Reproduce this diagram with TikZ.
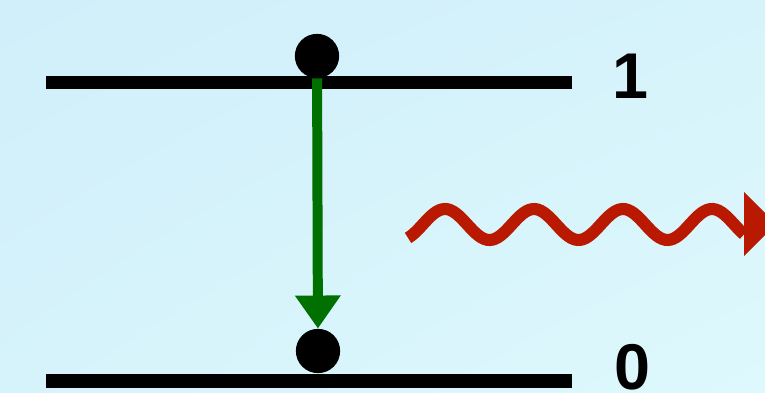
\documentclass[tikz,border=0pt]{standalone}
\usepackage{fontspec}
\setmainfont{Liberation Sans}
\usetikzlibrary{arrows.meta,shadings}
\definecolor{bgdark}{RGB}{208,239,250}
\definecolor{bgmid}{RGB}{214,243,251}
\definecolor{bglight}{RGB}{222,249,253}
\definecolor{decay}{RGB}{0,112,0}
\definecolor{photon}{RGB}{185,25,0}
\begin{document}
\begin{tikzpicture}[x=0.025cm, y=-0.025cm, >={Triangle[length=23.5pt,width=31pt]},
  level/.style={line width=9.3pt},
  dot/.style={circle, fill=black, inner sep=0pt, minimum size=31.5pt},
  num/.style={font=\bfseries\fontsize{46}{46}\selectfont, inner sep=0pt}]
\useasboundingbox (0,0) rectangle (765,393);
\shade[upper left=bgdark, upper right=bgmid, lower left=bgmid, lower right=bglight]
  (0,0) rectangle (765,393);

% energy levels
\coordinate (upL) at (46,82.5);
\coordinate (upR) at (572,82.5);
\coordinate (loL) at (46,381);
\coordinate (loR) at (572,381);
\draw[level] (upL) -- (upR);
\draw[level] (loL) -- (loR);
\node[num] (one) at (630,76) {1};
\node[num] (zero) at (632,367) {0};

% electron before and after
\node[dot] (upper) at (317,56) {};
\node[dot] (lower) at (318,351) {};
\draw[->, decay, line width=7.1pt] (upper) -- (lower);

% emitted photon
\draw[photon, line width=8.6pt, domain=408:744, samples=120, smooth]
  plot (\x, {224.5-15.5*cos(4.0449*(\x-445))}) coordinate (wend);
\coordinate (tip) at (776,224);
\fill[photon] (744,192) -- (tip) -- (744,256) -- cycle;

\end{tikzpicture}
\end{document}
